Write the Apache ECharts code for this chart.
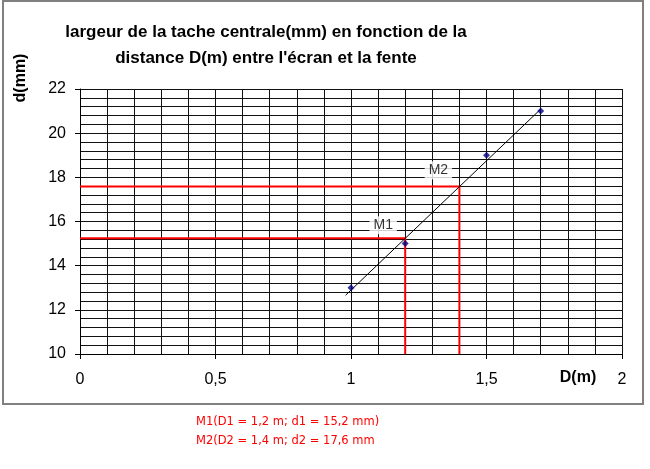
<!DOCTYPE html>
<html><head><meta charset="utf-8">
<script src="https://cdn.jsdelivr.net/npm/echarts@6/dist/echarts.min.js"></script>
<style>html,body{margin:0;padding:0;background:#fff}#c{width:650px;height:469px}</style>
</head><body><div id="c"></div>
<script>
var distances = [1, 1.2, 1.5, 1.7];
var widths = [13, 15, 19, 21];
var trendX = [0.98, 1.70];
var trendY = [12.66, 21.09];
var m1 = [1.2, 15.24];
var m2 = [1.4, 17.59];
var yMinVal = 10;
var titleText = "largeur de la tache centrale(mm) en fonction de la\ndistance D(m) entre l'écran et la fente";
var noteLines = ["M1(D1 = 1,2 m; d1 = 15,2 mm)", "M2(D2 = 1,4 m; d2 = 17,6 mm"];

var chart = echarts.init(document.getElementById('c'), null, {renderer: 'canvas'});
var font = 'Liberation Sans, Arial, sans-serif';
function guide(p) { return [[0, p[1]], [p[0], p[1]], [p[0], yMinVal]]; }
chart.setOption({
  backgroundColor: '#fff',
  animation: false,
  title: {
    text: titleText, left: 261, top: 14, textAlign: 'center',
    textStyle: {fontFamily: font, fontSize: 17, fontWeight: 'bold', color: '#000', lineHeight: 26}
  },
  grid: {left: 80, right: 28, top: 89, bottom: 115},
  xAxis: {
    type: 'value', min: 0, max: 2, interval: 0.5,
    axisLine: {show: true, lineStyle: {color: '#000', width: 1}},
    axisTick: {show: true, inside: false, length: 5, lineStyle: {color: '#000'}},
    axisLabel: {fontFamily: font, fontSize: 16, color: '#000', margin: 18,
      formatter: function (v) { return String(v).replace('.', ','); }},
    splitLine: {show: true, lineStyle: {color: '#111', width: 1}},
    minorTick: {show: false, splitNumber: 5},
    minorSplitLine: {show: true, lineStyle: {color: '#111', width: 1}}
  },
  yAxis: {
    type: 'value', min: 10, max: 22, interval: 2,
    axisLine: {show: true, lineStyle: {color: '#000', width: 1}},
    axisTick: {show: true, inside: false, length: 5, lineStyle: {color: '#000'}},
    axisLabel: {fontFamily: font, fontSize: 16, color: '#000', margin: 14},
    splitLine: {show: true, lineStyle: {color: '#111', width: 1}},
    minorTick: {show: false, splitNumber: 5},
    minorSplitLine: {show: true, lineStyle: {color: '#111', width: 1}}
  },
  series: [
    {type: 'line', data: guide(m1), symbol: 'none', lineStyle: {color: '#ff0000', width: 2}, z: 3},
    {type: 'line', data: guide(m2), symbol: 'none', lineStyle: {color: '#ff0000', width: 2}, z: 3},
    {type: 'line', data: trendX.map(function (x, i) { return [x, trendY[i]]; }), symbol: 'none',
      lineStyle: {color: '#000', width: 1}, z: 4},
    {type: 'scatter', data: distances.map(function (x, i) { return [x, widths[i]]; }),
      symbol: 'diamond', symbolSize: 7, itemStyle: {color: '#000080'}, z: 5},
    {type: 'scatter', symbolSize: 0, z: 6,
      data: [
        {value: m1, label: {show: true, formatter: 'M1', offset: [-22, -13]}},
        {value: m2, label: {show: true, formatter: 'M2', offset: [-21, -16]}}
      ],
      label: {position: 'inside', fontFamily: font, fontSize: 14, color: '#000',
        backgroundColor: '#fff', padding: [2, 4]}
    }
  ],
  graphic: [
    {type: 'rect', shape: {x: 3, y: 1, width: 640, height: 403}, style: {fill: null, stroke: '#808080', lineWidth: 2}, z: 100},
    {type: 'text', x: 21, y: 78, rotation: Math.PI / 2,
      style: {text: 'd(mm)', font: 'bold 16px ' + font, fill: '#000', align: 'center', verticalAlign: 'middle'}},
    {type: 'text', x: 578, y: 378,
      style: {text: 'D(m)', font: 'bold 16px ' + font, fill: '#000', align: 'center', verticalAlign: 'middle'}},
    {type: 'text', x: 196, y: 422,
      style: {text: noteLines[0], font: '11.5px DejaVu Sans, sans-serif', fill: '#ff0000', verticalAlign: 'middle'}},
    {type: 'text', x: 196, y: 441,
      style: {text: noteLines[1], font: '11.5px DejaVu Sans, sans-serif', fill: '#ff0000', verticalAlign: 'middle'}}
  ]
});
</script></body></html>
